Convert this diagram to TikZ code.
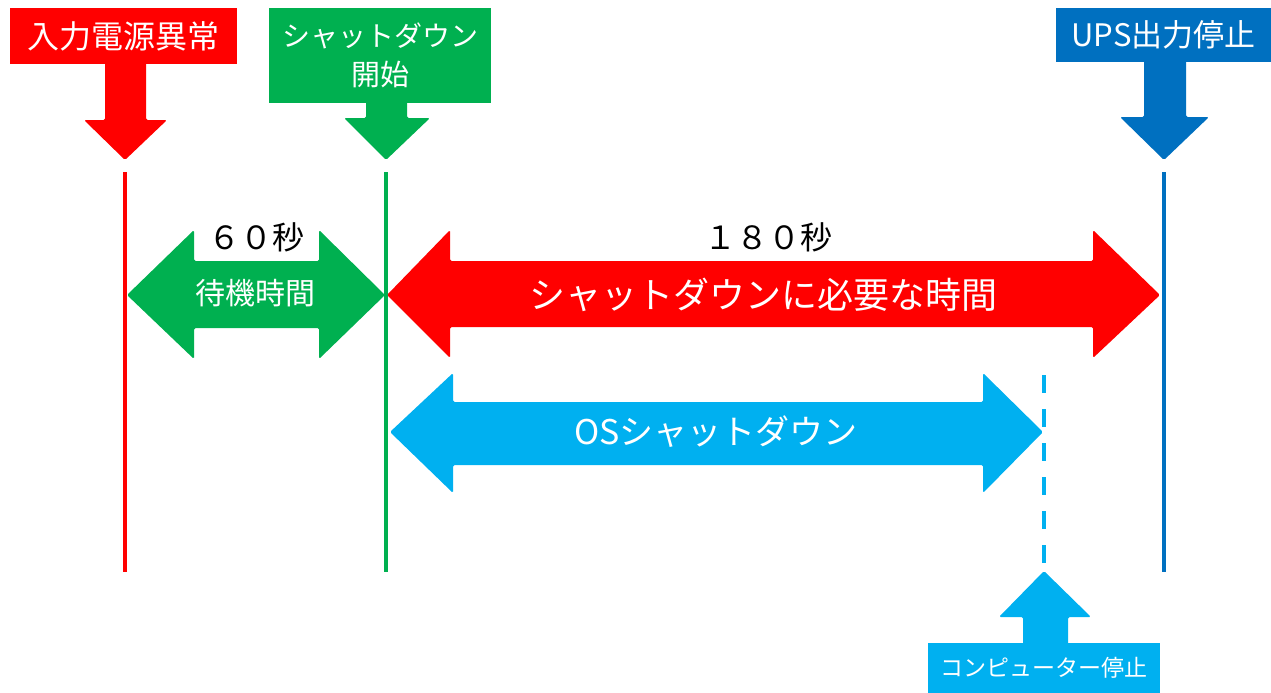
\documentclass[tikz,border=0pt]{standalone}
\usepackage{fontspec}
\newfontfamily\jp{Noto Sans CJK JP}
\definecolor{cred}{HTML}{FF0000}
\definecolor{cgreen}{HTML}{00B050}
\definecolor{cblue}{HTML}{0070C0}
\definecolor{ccyan}{HTML}{00B0F0}
\begin{document}
\begin{tikzpicture}[x=1pt,y=-1pt,
  lbl/.style={text=white,font=\jp\fontsize{#1}{#1}\selectfont,inner sep=0pt},
  blk/.style={text=black,font=\jp\fontsize{#1}{#1}\selectfont,inner sep=0pt},
  tagbox/.style={anchor=north west,inner sep=0pt,outer sep=0pt,text=white},
  vline/.style={line width=3.5pt},
  blockarrow/.style={rounded corners=1.5pt}]
\useasboundingbox (0,0) rectangle (1271,693);

% label boxes
\node[tagbox,fill=cred,minimum width=227pt,minimum height=56pt,
  font=\jp\fontsize{32}{32}\selectfont] (b1) at (10,8) {入力電源異常};
\node[tagbox,fill=cgreen,minimum width=222pt,minimum height=95pt,align=center,
  font=\jp\fontsize{29}{39}\selectfont] (b2) at (269,8) {\fontsize{28}{39}\selectfont シャットダウン\\開始};
\node[tagbox,fill=cblue,minimum width=215pt,minimum height=54pt,
  font=\jp\fontsize{31}{31}\selectfont] (b3) at (1056,8) {UPS出力停止};
\node[tagbox,fill=ccyan,minimum width=232pt,minimum height=50pt,
  font=\jp\fontsize{23}{23}\selectfont] (b4) at (928,643) {コンピューター停止};

% pointer arrows from boxes
\fill[cred,blockarrow] (105,60) -- (105,120) -- (84,120) -- (125,160) -- (167,120) -- (146,120) -- (146,60) -- cycle;
\fill[cgreen,blockarrow] (366,100) -- (366,118) -- (344,118) -- (386,160) -- (430,118) -- (407,118) -- (407,100) -- cycle;
\fill[cblue,blockarrow] (1144,58) -- (1144,117) -- (1120,117) -- (1164,160) -- (1209,117) -- (1186,117) -- (1186,58) -- cycle;
\fill[ccyan,blockarrow] (1023,646) -- (1023,617) -- (999,617) -- (1044,571) -- (1091,617) -- (1068,617) -- (1068,646) -- cycle;

% double arrows
\fill[cgreen,blockarrow] (127,295) -- (194,230) -- (194,261) -- (319,261) -- (319,230) -- (385,295)
  -- (319,359) -- (319,328) -- (194,328) -- (194,359) -- cycle;
\fill[cred,blockarrow] (387,295) -- (450,230) -- (450,261) -- (1093,261) -- (1093,230) -- (1160,295)
  -- (1093,358) -- (1093,327) -- (450,327) -- (450,358) -- cycle;
\fill[ccyan,blockarrow] (390,432) -- (453,373) -- (453,402) -- (983,402) -- (983,373) -- (1043,432)
  -- (983,493) -- (983,465) -- (453,465) -- (453,493) -- cycle;

% timeline lines
\coordinate (l1t) at (125,172); \coordinate (l1b) at (125,572);
\coordinate (l2t) at (386,172); \coordinate (l2b) at (386,572);
\coordinate (l3t) at (1164,172); \coordinate (l3b) at (1164,572);
\coordinate (l4t) at (1044,375); \coordinate (l4b) at (1044,563);
\draw[vline,cred] (l1t) -- (l1b);
\draw[vline,cgreen] (l2t) -- (l2b);
\draw[vline,cblue] (l3t) -- (l3b);
\draw[vline,ccyan,dash pattern=on 18pt off 16pt] (l4t) -- (l4b);

% texts
\node[blk=32] (s60) at (256,237) {６０秒};
\node[lbl=30] (wait) at (255,293) {待機時間};
\node[blk=32] (s180) at (768,237) {１８０秒};
\node[lbl=36] (need) at (763,295) {シャットダウンに必要な時間};
\node[lbl=34] (os) at (716,432) {OSシャットダウン};
\end{tikzpicture}
\end{document}
